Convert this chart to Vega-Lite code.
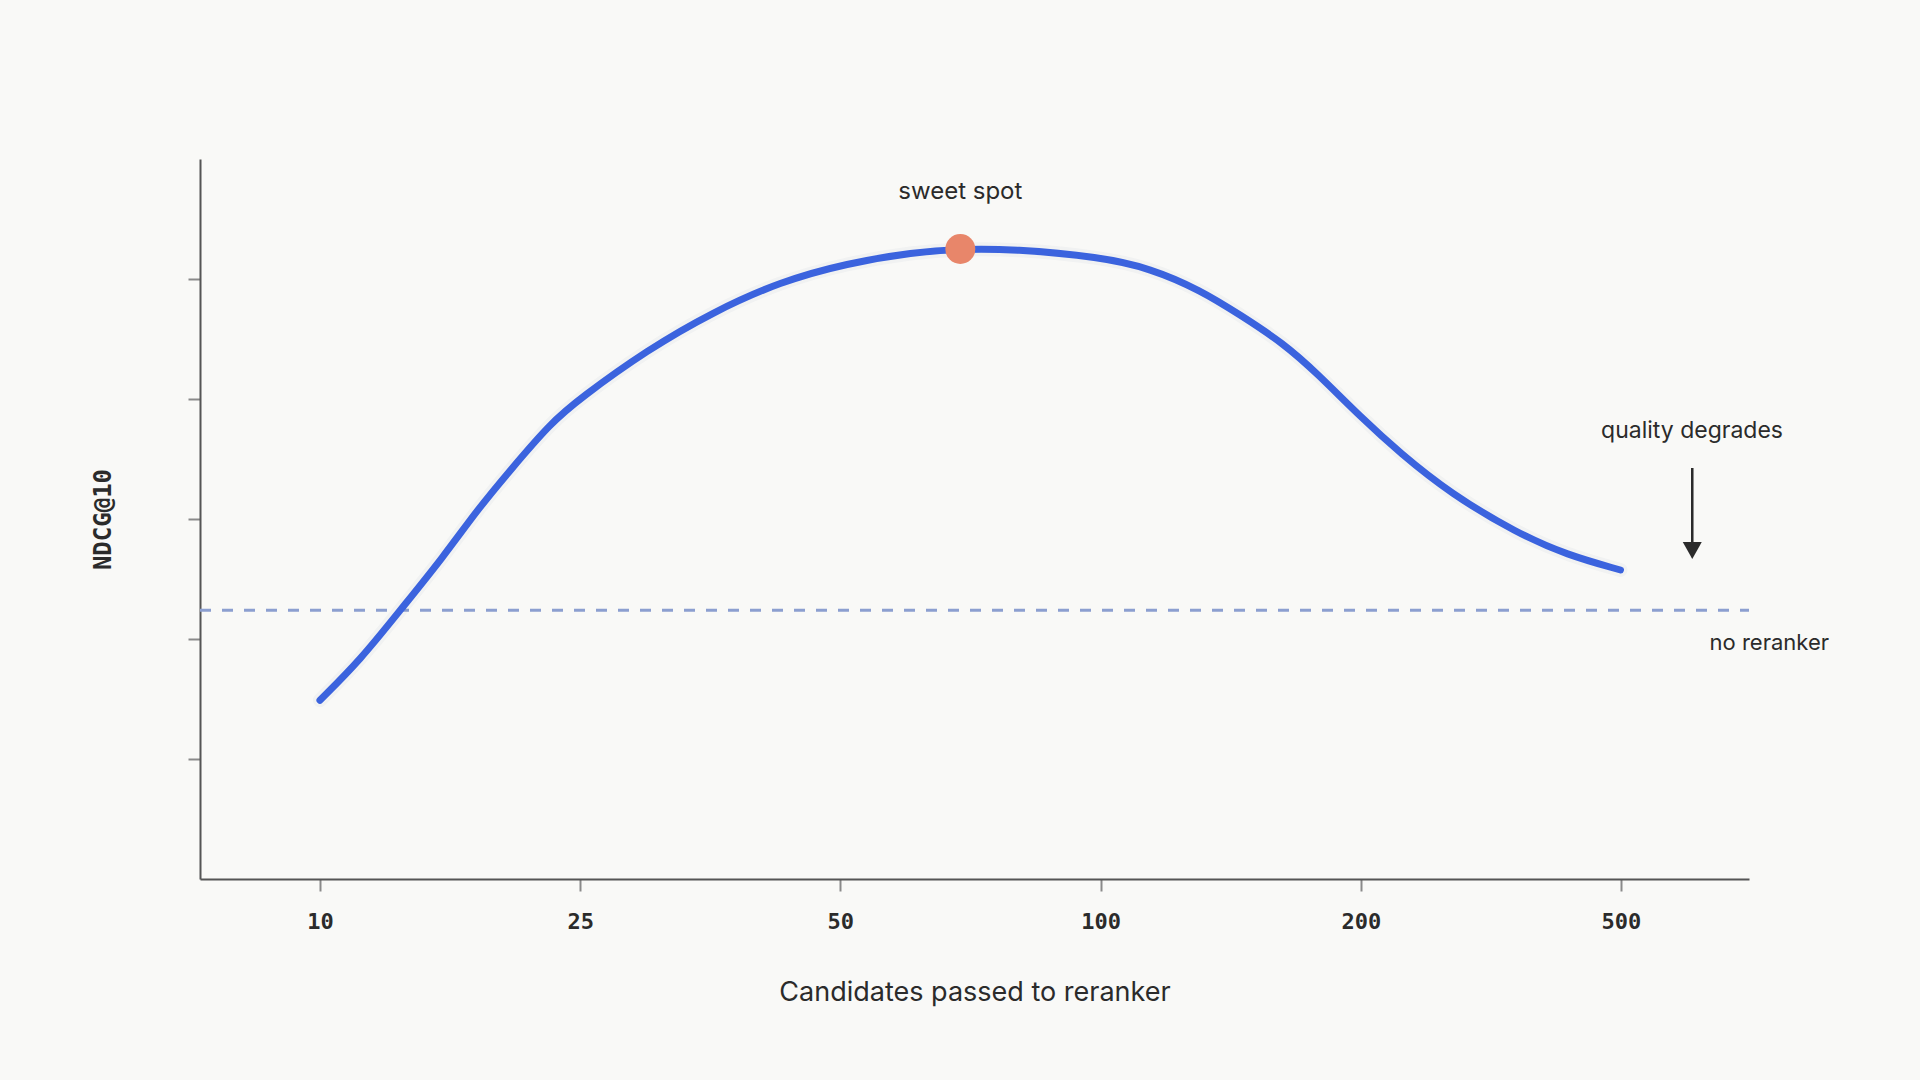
{
  "$schema": "https://vega.github.io/schema/vega-lite/v6.json",
  "width": 1549,
  "height": 720,
  "autosize": {"type": "none"},
  "padding": {"left": 200, "top": 159, "right": 171, "bottom": 201},
  "background": "#f9f9f7",
  "config": {"view": {"stroke": null}},
  "datasets": {
    "curve": [
      {"pos": 0.0, "ndcg": 1.49},
      {"pos": 0.155, "ndcg": 1.825},
      {"pos": 0.309, "ndcg": 2.242},
      {"pos": 0.475, "ndcg": 2.686},
      {"pos": 0.604, "ndcg": 3.075},
      {"pos": 0.732, "ndcg": 3.408},
      {"pos": 0.886, "ndcg": 3.798},
      {"pos": 1.0, "ndcg": 4.006},
      {"pos": 1.257, "ndcg": 4.408},
      {"pos": 1.513, "ndcg": 4.728},
      {"pos": 1.769, "ndcg": 4.978},
      {"pos": 2.026, "ndcg": 5.131},
      {"pos": 2.282, "ndcg": 5.223},
      {"pos": 2.461, "ndcg": 5.25},
      {"pos": 2.666, "ndcg": 5.25},
      {"pos": 2.999, "ndcg": 5.183},
      {"pos": 3.191, "ndcg": 5.089},
      {"pos": 3.383, "ndcg": 4.908},
      {"pos": 3.537, "ndcg": 4.7},
      {"pos": 3.703, "ndcg": 4.464},
      {"pos": 3.832, "ndcg": 4.214},
      {"pos": 3.998, "ndcg": 3.853},
      {"pos": 4.152, "ndcg": 3.548},
      {"pos": 4.344, "ndcg": 3.214},
      {"pos": 4.601, "ndcg": 2.881},
      {"pos": 4.793, "ndcg": 2.7},
      {"pos": 4.998, "ndcg": 2.575}
    ],
    "baseline": [{"pos": -0.461, "pos_end": 5.492, "ndcg": 2.24}],
    "sweet": [{"pos": 2.461, "ndcg": 5.25}],
    "note_sweet": [{"pos": 2.461, "ndcg": 5.725, "label": "sweet spot"}],
    "note_degrade": [{"pos": 5.273, "ndcg": 3.733, "label": "quality degrades"}],
    "note_none": [{"pos": 5.57, "ndcg": 1.967, "label": "no reranker"}],
    "arrow": [{"pos": 5.274, "ndcg": 3.425, "ndcg_end": 2.74}],
    "arrowhead": [{"pos": 5.274, "ndcg": 2.737}]
  },
  "encoding": {
    "x": {
      "field": "pos",
      "type": "quantitative",
      "scale": {"domain": [-0.461, 5.492], "nice": false, "zero": false},
      "axis": {
        "title": "Candidates passed to reranker",
        "values": [0, 1, 2, 3, 4, 5],
        "labelExpr": "['10','25','50','100','200','500'][datum.value]",
        "grid": false,
        "domainColor": "#555555",
        "domainWidth": 2,
        "tickColor": "#8a8a8a",
        "tickSize": 12,
        "tickWidth": 2,
        "labelFont": "DejaVu Sans Mono",
        "labelFontSize": 22,
        "labelFontWeight": "bold",
        "labelColor": "#2b2b2b",
        "labelPadding": 20,
        "labelFlush": false,
        "labelOverlap": false,
        "titleFont": "Inter",
        "titleFontSize": 27,
        "titleFontWeight": "normal",
        "titleColor": "#2b2b2b",
        "titleY": 113,
        "titleBaseline": "middle"
      }
    },
    "y": {
      "field": "ndcg",
      "type": "quantitative",
      "scale": {"domain": [0, 6], "nice": false, "zero": false},
      "axis": {
        "title": "NDCG@10",
        "values": [1, 2, 3, 4, 5],
        "labels": false,
        "grid": false,
        "domainColor": "#555555",
        "domainWidth": 2,
        "tickColor": "#8a8a8a",
        "tickSize": 12,
        "tickWidth": 2,
        "titleFont": "DejaVu Sans Mono",
        "titleFontSize": 24,
        "titleFontWeight": "bold",
        "titleColor": "#2b2b2b",
        "titleAngle": -90,
        "titleX": -97,
        "titleY": 360,
        "titleAlign": "center",
        "titleBaseline": "middle"
      }
    }
  },
  "layer": [
    {
      "data": {"name": "baseline"},
      "mark": {"type": "rule", "color": "#8c9fd0", "strokeWidth": 3, "strokeDash": [11, 11]},
      "encoding": {"x2": {"field": "pos_end"}}
    },
    {
      "data": {"name": "curve"},
      "mark": {"type": "line", "interpolate": "basis", "color": "#1c2c66", "strokeWidth": 14, "opacity": 0.035, "strokeCap": "round"}
    },
    {
      "data": {"name": "curve"},
      "mark": {"type": "line", "interpolate": "basis", "color": "#3b63de", "strokeWidth": 7, "strokeCap": "round", "strokeJoin": "round"}
    },
    {
      "data": {"name": "sweet"},
      "mark": {"type": "point", "filled": true, "shape": "circle", "size": 900, "color": "#e8866a", "opacity": 1}
    },
    {
      "data": {"name": "note_sweet"},
      "mark": {"type": "text", "font": "Inter", "fontSize": 24, "color": "#2b2b2b", "align": "center", "baseline": "middle"},
      "encoding": {"text": {"field": "label"}}
    },
    {
      "data": {"name": "note_degrade"},
      "mark": {"type": "text", "font": "Inter", "fontSize": 23, "color": "#2b2b2b", "align": "center", "baseline": "middle"},
      "encoding": {"text": {"field": "label"}}
    },
    {
      "data": {"name": "note_none"},
      "mark": {"type": "text", "font": "Inter", "fontSize": 22, "color": "#2b2b2b", "align": "center", "baseline": "middle"},
      "encoding": {"text": {"field": "label"}}
    },
    {
      "data": {"name": "arrow"},
      "mark": {"type": "rule", "color": "#2b2b2b", "strokeWidth": 2.5},
      "encoding": {"y2": {"field": "ndcg_end"}}
    },
    {
      "data": {"name": "arrowhead"},
      "mark": {"type": "point", "filled": true, "shape": "M-1,-0.9L1,-0.9L0,0.9Z", "size": 361, "color": "#2b2b2b", "opacity": 1}
    }
  ]
}
